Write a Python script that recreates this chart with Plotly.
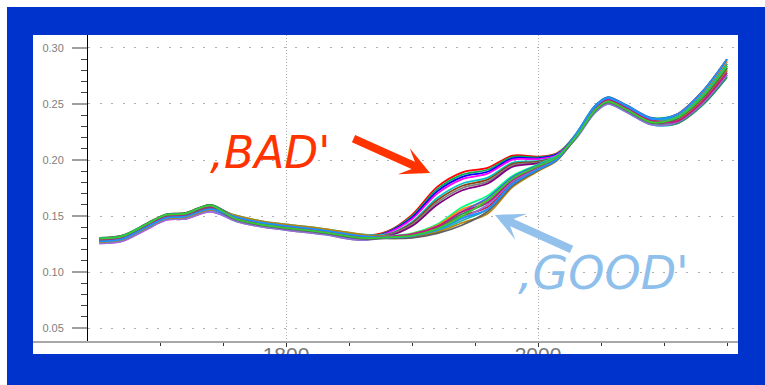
import plotly.graph_objects as go

# ---------------- data ----------------
wavelength = [1652, 1670, 1690, 1705, 1720, 1740, 1760, 1780, 1800, 1830, 1860,
              1880, 1900, 1920, 1940, 1960, 1980, 2000, 2015,
              2030, 2045, 2055, 2070, 2090, 2110, 2130, 2150]

# 'BAD' spectra
bad_01 = [0.1299, 0.1319, 0.1429, 0.1509, 0.1519, 0.1593, 0.1492, 0.1442, 0.1412, 0.1372, 0.1322,
          0.1360, 0.1510, 0.1760, 0.1890, 0.1930, 0.2040, 0.2030, 0.2060,
          0.2215, 0.2458, 0.2538, 0.2468, 0.2353, 0.2385, 0.2575, 0.2860]
bad_02 = [0.1274, 0.1294, 0.1404, 0.1484, 0.1494, 0.1562, 0.1480, 0.1430, 0.1400, 0.1360, 0.1310,
          0.1355, 0.1498, 0.1740, 0.1870, 0.1913, 0.2028, 0.2023, 0.2055,
          0.2230, 0.2480, 0.2560, 0.2490, 0.2375, 0.2405, 0.2605, 0.2900]
bad_03 = [0.1292, 0.1312, 0.1422, 0.1502, 0.1512, 0.1585, 0.1461, 0.1411, 0.1381, 0.1341, 0.1291,
          0.1350, 0.1485, 0.1720, 0.1850, 0.1895, 0.2015, 0.2015, 0.2050,
          0.2200, 0.2435, 0.2515, 0.2445, 0.2330, 0.2335, 0.2500, 0.2760]
bad_04 = [0.1255, 0.1275, 0.1385, 0.1465, 0.1475, 0.1540, 0.1468, 0.1418, 0.1388, 0.1348, 0.1298,
          0.1345, 0.1473, 0.1700, 0.1830, 0.1878, 0.2003, 0.2008, 0.2045,
          0.2225, 0.2473, 0.2553, 0.2483, 0.2368, 0.2375, 0.2560, 0.2840]
bad_05 = [0.1280, 0.1300, 0.1410, 0.1490, 0.1500, 0.1570, 0.1505, 0.1455, 0.1425, 0.1385, 0.1335,
          0.1335, 0.1447, 0.1660, 0.1790, 0.1842, 0.1977, 0.1992, 0.2035,
          0.2190, 0.2420, 0.2500, 0.2430, 0.2315, 0.2325, 0.2485, 0.2740]
bad_06 = [0.1305, 0.1325, 0.1435, 0.1515, 0.1525, 0.1600, 0.1486, 0.1436, 0.1406, 0.1366, 0.1316,
          0.1330, 0.1435, 0.1640, 0.1770, 0.1825, 0.1965, 0.1985, 0.2030,
          0.2210, 0.2450, 0.2530, 0.2460, 0.2345, 0.2355, 0.2530, 0.2800]
bad_07 = [0.1268, 0.1288, 0.1398, 0.1478, 0.1488, 0.1555, 0.1455, 0.1405, 0.1375, 0.1335, 0.1285,
          0.1325, 0.1422, 0.1620, 0.1750, 0.1807, 0.1952, 0.1977, 0.2025,
          0.2220, 0.2465, 0.2545, 0.2475, 0.2360, 0.2395, 0.2590, 0.2880]
bad_08 = [0.1286, 0.1306, 0.1416, 0.1496, 0.1506, 0.1578, 0.1499, 0.1449, 0.1419, 0.1379, 0.1329,
          0.1320, 0.1410, 0.1600, 0.1730, 0.1790, 0.1940, 0.1970, 0.2020,
          0.2205, 0.2442, 0.2522, 0.2452, 0.2337, 0.2365, 0.2545, 0.2820]

# 'GOOD' spectra
good_01 = [0.1261, 0.1281, 0.1391, 0.1471, 0.1481, 0.1547, 0.1474, 0.1424, 0.1394, 0.1354, 0.1304,
           0.1320, 0.1345, 0.1425, 0.1580, 0.1680, 0.1860, 0.1960, 0.2035,
           0.2195, 0.2427, 0.2507, 0.2437, 0.2322, 0.2345, 0.2515, 0.2780]
good_02 = [0.1292, 0.1312, 0.1422, 0.1502, 0.1512, 0.1585, 0.1499, 0.1449, 0.1419, 0.1379, 0.1329,
           0.1318, 0.1340, 0.1415, 0.1560, 0.1640, 0.1835, 0.1945, 0.2025,
           0.2215, 0.2458, 0.2538, 0.2468, 0.2353, 0.2395, 0.2590, 0.2880]
good_03 = [0.1274, 0.1294, 0.1404, 0.1484, 0.1494, 0.1562, 0.1461, 0.1411, 0.1381, 0.1341, 0.1291,
           0.1315, 0.1335, 0.1405, 0.1540, 0.1660, 0.1848, 0.1953, 0.2030,
           0.2230, 0.2480, 0.2560, 0.2490, 0.2375, 0.2375, 0.2560, 0.2840]
good_04 = [0.1305, 0.1325, 0.1435, 0.1515, 0.1525, 0.1600, 0.1492, 0.1442, 0.1412, 0.1372, 0.1322,
           0.1313, 0.1330, 0.1395, 0.1520, 0.1620, 0.1823, 0.1938, 0.2020,
           0.2205, 0.2442, 0.2522, 0.2452, 0.2337, 0.2325, 0.2485, 0.2740]
good_05 = [0.1280, 0.1300, 0.1410, 0.1490, 0.1500, 0.1570, 0.1486, 0.1436, 0.1406, 0.1366, 0.1316,
           0.1310, 0.1325, 0.1385, 0.1500, 0.1580, 0.1798, 0.1923, 0.2010,
           0.2220, 0.2465, 0.2545, 0.2475, 0.2360, 0.2405, 0.2605, 0.2900]
good_06 = [0.1255, 0.1275, 0.1385, 0.1465, 0.1475, 0.1540, 0.1455, 0.1405, 0.1375, 0.1335, 0.1285,
           0.1308, 0.1320, 0.1375, 0.1480, 0.1600, 0.1810, 0.1930, 0.2015,
           0.2190, 0.2420, 0.2500, 0.2430, 0.2315, 0.2335, 0.2500, 0.2760]
good_07 = [0.1299, 0.1319, 0.1429, 0.1509, 0.1519, 0.1593, 0.1480, 0.1430, 0.1400, 0.1360, 0.1310,
           0.1305, 0.1315, 0.1365, 0.1460, 0.1560, 0.1785, 0.1915, 0.2005,
           0.2225, 0.2473, 0.2553, 0.2483, 0.2368, 0.2385, 0.2575, 0.2860]
good_08 = [0.1268, 0.1288, 0.1398, 0.1478, 0.1488, 0.1555, 0.1505, 0.1455, 0.1425, 0.1385, 0.1335,
           0.1303, 0.1310, 0.1355, 0.1440, 0.1520, 0.1760, 0.1900, 0.1995,
           0.2210, 0.2450, 0.2530, 0.2460, 0.2345, 0.2355, 0.2530, 0.2800]
good_09 = [0.1286, 0.1306, 0.1416, 0.1496, 0.1506, 0.1578, 0.1468, 0.1418, 0.1388, 0.1348, 0.1298,
           0.1300, 0.1305, 0.1345, 0.1420, 0.1540, 0.1773, 0.1908, 0.2000,
           0.2200, 0.2435, 0.2515, 0.2445, 0.2330, 0.2365, 0.2545, 0.2820]
good_10 = [0.1292, 0.1312, 0.1422, 0.1502, 0.1512, 0.1585, 0.1486, 0.1436, 0.1406, 0.1366, 0.1316,
           0.1315, 0.1335, 0.1405, 0.1540, 0.1620, 0.1823, 0.1938, 0.2020,
           0.2215, 0.2458, 0.2538, 0.2468, 0.2353, 0.2345, 0.2515, 0.2780]
good_11 = [0.1274, 0.1294, 0.1404, 0.1484, 0.1494, 0.1562, 0.1492, 0.1442, 0.1412, 0.1372, 0.1322,
           0.1308, 0.1320, 0.1375, 0.1480, 0.1560, 0.1785, 0.1915, 0.2005,
           0.2225, 0.2473, 0.2553, 0.2483, 0.2368, 0.2405, 0.2605, 0.2900]
good_12 = [0.1299, 0.1319, 0.1429, 0.1509, 0.1519, 0.1593, 0.1474, 0.1424, 0.1394, 0.1354, 0.1304,
           0.1310, 0.1325, 0.1385, 0.1500, 0.1640, 0.1835, 0.1945, 0.2025,
           0.2205, 0.2442, 0.2522, 0.2452, 0.2337, 0.2375, 0.2560, 0.2840]

bad_spectra = [bad_01, bad_02, bad_03, bad_04, bad_05, bad_06, bad_07, bad_08]
good_spectra = [good_01, good_02, good_03, good_04, good_05, good_06,
                good_07, good_08, good_09, good_10, good_11, good_12]

line_colors = ["#ff0000", "#00b050", "#0000ff", "#ff00ff", "#00c8c8", "#8b4513", "#808080",
               "#800080", "#00ff80", "#ff8c00", "#4169e1", "#2e8b57", "#dc143c", "#9370db",
               "#20b2aa", "#b8860b", "#606060", "#c71585", "#1e90ff", "#32cd32"]

y_major_ticks = [0.05, 0.10, 0.15, 0.20, 0.25, 0.30]
y_minor_ticks = [0.06, 0.07, 0.08, 0.09, 0.11, 0.12, 0.13, 0.14, 0.16, 0.17, 0.18, 0.19,
                 0.21, 0.22, 0.23, 0.24, 0.26, 0.27, 0.28, 0.29]
x_major_ticks = [1800, 2000]
x_minor_ticks = [1700, 1750, 1850, 1900, 1950, 2050, 2100, 2150]

bad_label = "‚BAD'"
good_label = "‚GOOD'"

# ---------------- figure ----------------
W, H = 765, 385
ML, MR, MT, MB = 88, 27, 35, 43
PW, PH = W - ML - MR, H - MT - MB
BLUE = "#0033cc"


def fx(px):
    return (px - ML) / PW


def fy(py):
    return (H - MB - py) / PH


fig = go.Figure()
for i, ys in enumerate(bad_spectra + good_spectra):
    fig.add_trace(go.Scatter(
        x=wavelength, y=ys, mode="lines",
        line=dict(color=line_colors[i % len(line_colors)], width=1.8,
                  shape="spline", smoothing=0.9),
        hoverinfo="skip", showlegend=False))

shapes = [
    dict(type="rect", xref="paper", yref="paper", layer="below",
         x0=fx(33), x1=fx(738), y0=fy(354), y1=fy(35),
         fillcolor="white", line=dict(width=0)),
    dict(type="rect", xref="paper", yref="paper", layer="above",
         x0=fx(0), x1=fx(765), y0=fy(385), y1=fy(354),
         fillcolor=BLUE, line=dict(width=0)),
    dict(type="line", xref="paper", yref="paper", layer="above",
         x0=fx(33), x1=fx(738), y0=fy(342), y1=fy(342),
         line=dict(color="#a8a8a8", width=2)),
    dict(type="rect", xref="paper", yref="paper", layer="above",
         x0=fx(0), x1=fx(7), y0=fy(385), y1=fy(0),
         fillcolor="white", line=dict(width=0)),
    dict(type="rect", xref="paper", yref="paper", layer="above",
         x0=fx(0), x1=fx(765), y0=fy(7), y1=fy(0),
         fillcolor="white", line=dict(width=0)),
]

annotations = [
    dict(x=1787, y=0.2071, xref="x", yref="y", text=bad_label, showarrow=False,
         font=dict(family="DejaVu Sans", size=44, color="#ff3300", style="italic")),
    dict(x=1914.3, y=0.1884, xref="x", yref="y", text="", showarrow=True,
         ax=-78, ay=-35, arrowhead=3, arrowsize=0.6, arrowwidth=8, arrowcolor="#ff3300"),
    dict(x=2052, y=0.0987, xref="x", yref="y", text=good_label, showarrow=False,
         font=dict(family="DejaVu Sans", size=46, color="#8ec0eb", style="italic")),
    dict(x=1965.9, y=0.1509, xref="x", yref="y", text="", showarrow=True,
         ax=78, ay=35, arrowhead=3, arrowsize=0.6, arrowwidth=8, arrowcolor="#92c1ec"),
]

fig.update_layout(
    width=W, height=H,
    margin=dict(l=ML, r=MR, t=MT, b=MB, pad=0),
    paper_bgcolor=BLUE, plot_bgcolor="white",
    shapes=shapes, annotations=annotations,
    showlegend=False,
    xaxis=dict(
        range=[1642.86, 2158.73], tickmode="array", tickvals=x_major_ticks,
        ticks="outside", ticklen=4, tickwidth=1, tickcolor="#333333",
        ticklabelstandoff=-10,
        tickfont=dict(family="Liberation Sans, Arial", size=21, color="#777777"),
        showgrid=True, gridcolor="#b0b0b0", gridwidth=1, griddash="1px,2px",
        showline=False, zeroline=False,
        minor=dict(tickmode="array", tickvals=x_minor_ticks, ticks="outside",
                   ticklen=3, tickwidth=1, tickcolor="#333333", showgrid=False),
    ),
    yaxis=dict(
        range=[0.0375, 0.3116], tickmode="array", tickvals=y_major_ticks,
        tickformat=".2f",
        ticks="outside", ticklen=15, tickwidth=2, tickcolor="#a0a0a0",
        ticklabelstandoff=6,
        tickfont=dict(family="Liberation Sans, Arial", size=11, color="#808080"),
        showgrid=True, gridcolor="#b0b0b0", gridwidth=1, griddash="2px,9.5px",
        showline=True, linecolor="black", linewidth=1, zeroline=False,
        minor=dict(tickmode="array", tickvals=y_minor_ticks, ticks="outside",
                   ticklen=6, tickwidth=1, tickcolor="#444444", showgrid=False),
    ),
)

fig.write_html("out.html", config={"displayModeBar": False})
